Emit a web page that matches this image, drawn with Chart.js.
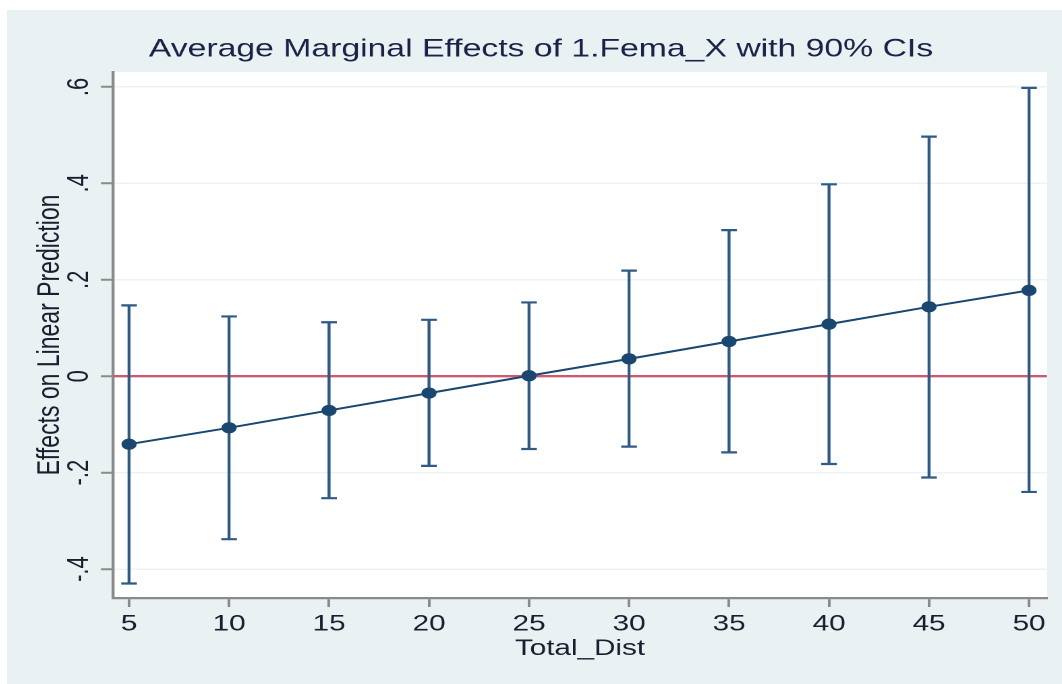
<!DOCTYPE html>
<html>
<head>
<meta charset="utf-8">
<script src="https://cdn.jsdelivr.net/npm/chart.js@4"></script>
<style>
  html, body { margin: 0; padding: 0; background: #ffffff; }
  #frame {
    position: absolute; left: 7px; top: 10px;
    width: 1055px; height: 674px;
    background: #e9f1f3; overflow: hidden;
  }
  /* the source graph is stretched sideways, so the canvas is too */
  #stretch { width: 782px; height: 674px; transform: scaleX(1.3491); transform-origin: 0 0; }
</style>
</head>
<body>
<div id="frame"><div id="stretch"><canvas id="chart"></canvas></div></div>
<script>
const distances = [5, 10, 15, 20, 25, 30, 35, 40, 45, 50];
const effects = [-0.141, -0.107, -0.071, -0.035, 0.001, 0.036, 0.072, 0.108, 0.144, 0.178];
const ciLower = [-0.430, -0.338, -0.253, -0.186, -0.151, -0.146, -0.158, -0.182, -0.210, -0.240];
const ciUpper = [0.147, 0.124, 0.112, 0.117, 0.153, 0.219, 0.303, 0.398, 0.497, 0.598];

const xTicks = [5, 10, 15, 20, 25, 30, 35, 40, 45, 50];
const yTickValues = [-0.4, -0.2, 0, 0.2, 0.4, 0.6];
const yTickLabels = ['-.4', '-.2', '0', '.2', '.4', '.6'];
const xRange = [4.2, 50.9];
const yRange = [-0.46, 0.631];
const refLineY = 0;

const titleText = 'Average Marginal Effects of 1.Fema_X with 90% CIs';
const xTitle = 'Total_Dist';
const yTitle = 'Effects on Linear Prediction';

const fontFamily = "'Liberation Sans', Arial, Helvetica, sans-serif";
const textColor = '#1c1d2e';
const navy = '#1a476f';
const ciColor = '#2e5a84';
const refColor = '#cd5a73';
const axisColor = '#8a8a8a';
const gridColor = '#edf3f5';

// CI whiskers: low/high pairs split by a null gap
const ciPoints = [];
distances.forEach((d, i) => {
  ciPoints.push({ x: d, y: ciLower[i] }, { x: d, y: ciUpper[i] }, { x: d, y: null });
});

const plotBackground = {
  id: 'plotBackground',
  beforeDraw: (chart) => {
    const { ctx, chartArea } = chart;
    ctx.save();
    ctx.fillStyle = '#ffffff';
    ctx.fillRect(chartArea.left, chartArea.top, chartArea.right - chartArea.left, chartArea.bottom - chartArea.top);
    ctx.restore();
  }
};

// stata writes y labels turned on their side
const sidewaysYLabels = {
  id: 'sidewaysYLabels',
  afterDraw: (chart) => {
    const ctx = chart.ctx;
    const y = chart.scales.y;
    const xPos = chart.chartArea.left - 24.5;
    ctx.save();
    ctx.font = `22px ${fontFamily}`;
    ctx.fillStyle = textColor;
    ctx.textAlign = 'center';
    ctx.textBaseline = 'middle';
    yTickValues.forEach((v, i) => {
      ctx.save();
      ctx.translate(xPos, y.getPixelForValue(v));
      ctx.rotate(-Math.PI / 2);
      ctx.fillText(yTickLabels[i], 0, 0);
      ctx.restore();
    });
    ctx.restore();
  }
};

new Chart(document.getElementById('chart'), {
  type: 'line',
  data: {
    datasets: [
      {
        data: distances.map((d, i) => ({ x: d, y: effects[i] })),
        borderColor: navy,
        borderWidth: 2,
        pointRadius: 5.6,
        pointBackgroundColor: navy,
        pointBorderColor: navy,
        pointBorderWidth: 0,
        order: 0
      },
      {
        data: ciPoints,
        borderColor: ciColor,
        borderWidth: 2.2,
        spanGaps: false,
        pointStyle: 'line',
        pointRadius: 5.8,
        pointBorderColor: ciColor,
        pointBorderWidth: 2.2,
        order: 1
      },
      {
        data: [{ x: xRange[0], y: refLineY }, { x: xRange[1], y: refLineY }],
        borderColor: refColor,
        borderWidth: 2.4,
        pointRadius: 0,
        order: 2
      }
    ]
  },
  options: {
    responsive: true,
    maintainAspectRatio: false,
    devicePixelRatio: 2,
    animation: false,
    layout: { padding: { left: 20.7, right: 11.1, top: 0, bottom: 20 } },
    plugins: {
      legend: { display: false },
      tooltip: { enabled: false },
      title: {
        display: true,
        text: titleText,
        color: '#1b2248',
        font: { family: fontFamily, size: 25, weight: 'normal', lineHeight: 1.2 },
        padding: { top: 24.5, bottom: 7.5 }
      }
    },
    scales: {
      x: {
        type: 'linear',
        min: xRange[0],
        max: xRange[1],
        afterBuildTicks: (scale) => { scale.ticks = xTicks.map(v => ({ value: v })); },
        afterFit: (scale) => { scale.height = 66; },
        border: { display: true, color: axisColor, width: 2.2 },
        grid: { drawOnChartArea: false, drawTicks: true, tickLength: 9, tickColor: axisColor, tickWidth: 2 },
        ticks: { color: textColor, font: { family: fontFamily, size: 22 }, padding: 4, maxRotation: 0 },
        title: {
          display: true,
          text: xTitle,
          color: textColor,
          font: { family: fontFamily, size: 22, lineHeight: 1.2 },
          padding: { top: 0, bottom: 2 }
        }
      },
      y: {
        type: 'linear',
        min: yRange[0],
        max: yRange[1],
        afterBuildTicks: (scale) => { scale.ticks = yTickValues.map(v => ({ value: v })); },
        afterFit: (scale) => { scale.width = 57.9; },
        border: { display: true, color: axisColor, width: 2.2 },
        grid: { color: gridColor, lineWidth: 1.5, drawTicks: true, tickLength: 9, tickColor: axisColor, tickWidth: 2 },
        ticks: { display: false },
        title: {
          display: true,
          text: yTitle,
          color: textColor,
          font: { family: fontFamily, size: 23, lineHeight: 1 },
          padding: { top: 0, bottom: 0 }
        }
      }
    }
  },
  plugins: [plotBackground, sidewaysYLabels]
});
</script>
</body>
</html>
